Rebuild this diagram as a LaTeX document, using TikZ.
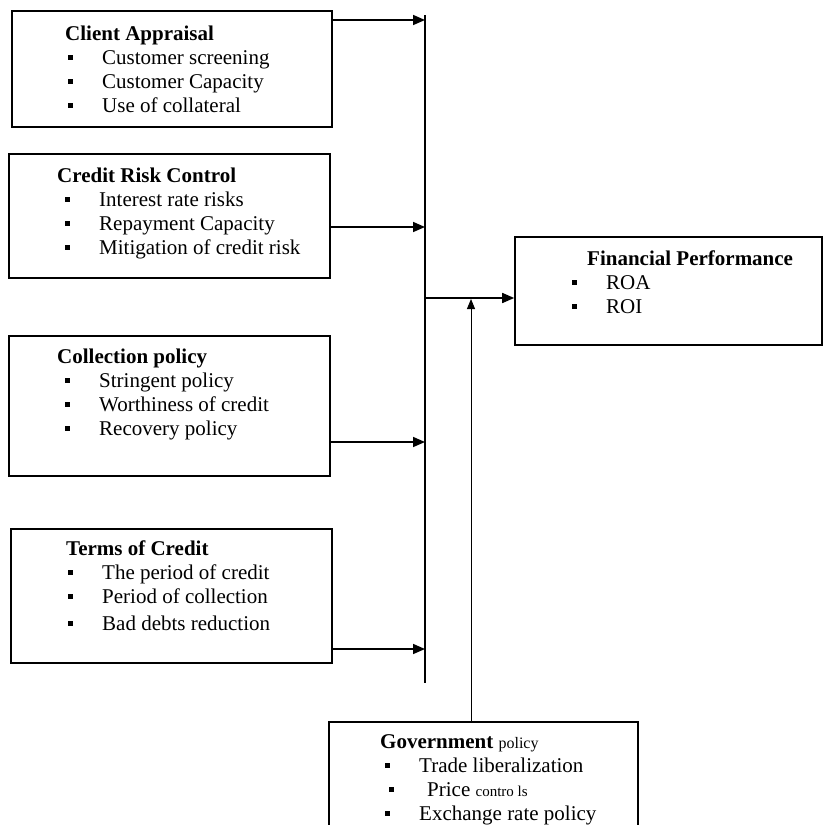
\documentclass[tikz,border=0pt]{standalone}
\usepackage{fontspec}
\setmainfont{Liberation Serif}
\usetikzlibrary{arrows.meta}

\newcommand{\itm}[1]{\rule[0.2em]{5pt}{5pt}\hspace{29pt}#1}

\begin{document}
\begin{tikzpicture}[x=1pt,y=-1pt,
    box/.style={draw, line width=1.6pt, inner sep=0pt},
    txt/.style={anchor=base west, align=left, inner sep=0pt, font=\fontsize{21}{24}\selectfont},
    arr/.style={-{Triangle[length=12pt,width=10pt]}, line width=1.6pt},
    thinarr/.style={-{Triangle[length=10pt,width=8pt]}, line width=1pt}]
  \useasboundingbox (0,0) rectangle (823,825);

  % Boxes
  \node[box, minimum width=320pt, minimum height=116pt] (appraisal) at (172,69) {};
  \node[box, minimum width=321pt, minimum height=124pt] (riskctrl) at (169.5,216) {};
  \node[box, minimum width=321pt, minimum height=140pt] (collection) at (169.5,406) {};
  \node[box, minimum width=321pt, minimum height=134pt] (terms) at (171.5,596) {};
  \node[box, minimum width=307pt, minimum height=108pt] (perf) at (668.5,291) {};
  \node[box, minimum width=309pt, minimum height=120pt] (govt) at (483.5,782) {};

  % Texts (placed at the baseline of their last line)
  \node[txt] (appraisaltxt) at (65,112) {\textbf{Client Appraisal}\\
    \hspace*{3pt}\itm{Customer screening}\\
    \hspace*{3pt}\itm{Customer Capacity}\\
    \hspace*{3pt}\itm{Use of collateral}};
  \node[txt] (riskctrltxt) at (57,254) {\textbf{Credit Risk Control}\\
    \hspace*{8pt}\itm{Interest rate risks}\\
    \hspace*{8pt}\itm{Repayment Capacity}\\
    \hspace*{8pt}\itm{Mitigation of credit risk}};
  \node[txt] (collectiontxt) at (57,435) {\textbf{Collection policy}\\
    \hspace*{8pt}\itm{Stringent policy}\\
    \hspace*{8pt}\itm{Worthiness of credit}\\
    \hspace*{8pt}\itm{Recovery policy}};
  \node[txt] (termstxt) at (66,630) {\textbf{Terms of Credit}\\
    \hspace*{2pt}\itm{The period of credit}\\
    \hspace*{2pt}\itm{Period of collection}\\[3pt]
    \hspace*{2pt}\itm{Bad debts reduction}};
  \node[txt] (perftxt) at (572,313) {\hspace*{15pt}\textbf{Financial Performance}\\
    \itm{ROA}\\
    \itm{ROI}};
  \node[txt] (govttxt) at (380,820) {\textbf{Government} {\fontsize{16}{18}\selectfont policy}\\
    \hspace*{5pt}\itm{Trade liberalization}\\
    \hspace*{9pt}\itm{\hspace*{4pt}Price {\fontsize{15}{18}\selectfont contro ls}}\\
    \hspace*{5pt}\itm{Exchange rate policy}};

  % Bus line
  \coordinate (bustop) at (425,15);
  \coordinate (busbot) at (425,683);
  \coordinate (busout) at (425,298);
  \coordinate (j1) at (425,20);
  \coordinate (j2) at (425,227);
  \coordinate (j3) at (425,442);
  \coordinate (j4) at (425,649);
  \coordinate (govtip) at (471,299);
  \draw[line width=1.6pt] (bustop) -- (busbot);

  % Arrows
  \draw[arr] (appraisal.east |- j1) -- (j1);
  \draw[arr] (riskctrl.east |- j2) -- (j2);
  \draw[arr] (collection.east |- j3) -- (j3);
  \draw[arr] (terms.east |- j4) -- (j4);
  \draw[arr] (busout) -- (perf.west |- busout); % into performance
  \draw[thinarr] (govt.north -| govtip) -- (govtip); % government policy
\end{tikzpicture}
\end{document}
